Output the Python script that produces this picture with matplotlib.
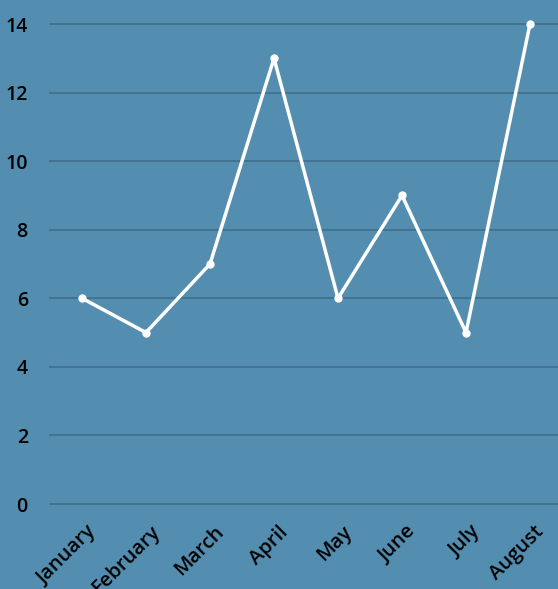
import matplotlib
matplotlib.use("Agg")
import matplotlib.pyplot as plt

months = ["January", "February", "March", "April", "May", "June", "July", "August"]
values = [6, 5, 7, 13, 6, 9, 5, 14]
yticks = [0, 2, 4, 6, 8, 10, 12, 14]

bg = "#538DB0"
grid = "#3F6F8D"
FONT = "Open Sans"

W, H = 558, 589
fig = plt.figure(figsize=(W/100, H/100), dpi=100, facecolor=bg)
left, right, bottom, top = 50, 558, 504, 24
ax = fig.add_axes([left/W, (H-bottom)/H, (right-left)/W, (bottom-top)/H])
ax.set_facecolor(bg)
x = list(range(len(months)))
ax.plot(x, values, color="white", lw=2.5, marker="o", ms=5, clip_on=False, zorder=3)
ax.set_xlim(-0.5, 7.4375)
ax.set_ylim(0, 14)
ax.set_yticks(yticks)
ax.set_yticklabels([str(v) for v in yticks], fontsize=14, fontfamily=FONT, fontweight="semibold", color="black")
ax.set_xticks(x)
ax.set_xticklabels(months, rotation=45, ha="right", rotation_mode="anchor",
                   fontsize=14.5, fontfamily=FONT, fontweight="semibold", color="black")
ax.tick_params(axis="both", length=0)
ax.tick_params(axis="y", pad=16)
ax.tick_params(axis="x", pad=13)
ax.grid(axis="y", color=grid, lw=1.2, clip_on=False)
ax.grid(axis="x", visible=False)
for s in ax.spines.values():
    s.set_visible(False)
for lbl in ax.get_xticklabels():
    lbl.set_transform(lbl.get_transform() + matplotlib.transforms.ScaledTranslation(4/100, 0, fig.dpi_scale_trans))
fig.savefig("out.png", dpi=100, facecolor=bg)
